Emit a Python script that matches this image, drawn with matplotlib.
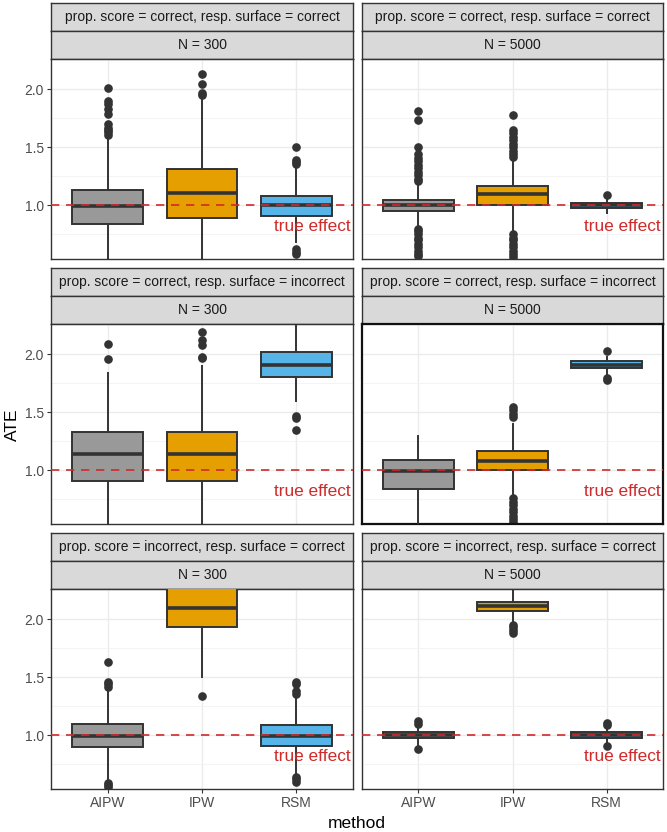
import matplotlib
matplotlib.use("Agg")
import matplotlib.pyplot as plt

plt.rcParams['font.family'] = ['Liberation Sans', 'DejaVu Sans']

# facet labels
row_labels = ["prop. score = correct, resp. surface = correct",
              "prop. score = correct, resp. surface = incorrect",
              "prop. score = incorrect, resp. surface = correct"]
col_labels = ["N = 300", "N = 5000"]
methods = ["AIPW", "IPW", "RSM"]
box_colors = ["#999999", "#E69F00", "#56B4E9"]

# box stats per panel (row-major: r0c0, r0c1, r1c0, r1c1, r2c0, r2c1), per method
q1 = [[0.84, 0.89, 0.905], [0.95, 1.00, 0.975],
      [0.91, 0.91, 1.805], [0.84, 1.00, 1.88],
      [0.90, 1.935, 0.905], [0.975, 2.075, 0.975]]
med = [[0.99, 1.11, 1.00], [1.00, 1.10, 1.00],
       [1.145, 1.145, 1.91], [0.995, 1.08, 1.91],
       [0.995, 2.10, 0.995], [1.00, 2.115, 1.00]]
q3 = [[1.135, 1.31, 1.08], [1.05, 1.17, 1.02],
      [1.33, 1.33, 2.02], [1.085, 1.165, 1.94],
      [1.10, 2.30, 1.09], [1.025, 2.15, 1.025]]
whislo = [[0.40, 0.40, 0.68], [0.83, 0.77, 0.93],
          [0.40, 0.40, 1.60], [0.40, 0.77, 1.83],
          [0.62, 1.505, 0.66], [0.92, 1.97, 0.92]]
whishi = [[1.59, 1.92, 1.33], [1.19, 1.39, 1.05],
          [1.84, 1.90, 2.40], [1.295, 1.40, 1.98],
          [1.39, 2.60, 1.34], [1.07, 2.30, 1.07]]
fliers = [
    [[2.01, 1.90, 1.87, 1.83, 1.79, 1.70, 1.67, 1.65, 1.63, 1.61],
     [1.95, 1.97, 2.05, 2.13],
     [1.50, 1.39, 1.37, 1.36, 0.62, 0.60, 0.58]],
    [[1.81, 1.74, 1.50, 1.44, 1.41, 1.38, 1.35, 1.32, 1.29, 1.26, 1.23, 1.21,
      0.80, 0.78, 0.75, 0.72, 0.70, 0.67, 0.64, 0.61, 0.58, 0.56],
     [1.78, 1.65, 1.62, 1.59, 1.56, 1.53, 1.50, 1.47, 1.44, 1.42,
      0.75, 0.72, 0.70, 0.67, 0.64, 0.61, 0.58, 0.55],
     [1.09]],
    [[2.09, 1.96],
     [2.19, 2.12, 2.08, 1.98, 1.97],
     [1.47, 1.45, 1.35]],
    [[],
     [1.55, 1.52, 1.49, 1.46, 0.76, 0.73, 0.70, 0.67, 0.64, 0.61, 0.58, 0.55],
     [2.03, 1.80, 1.78]],
    [[1.63, 1.46, 1.44, 1.42, 0.59, 0.57, 0.55],
     [1.34],
     [1.46, 1.44, 1.38, 1.36, 0.64, 0.62, 0.60]],
    [[1.12, 1.10, 0.885],
     [1.95, 1.93, 1.91, 1.88],
     [1.11, 1.09, 0.905]],
]
true_effect = 1.0
y_ticks = [1.0, 1.5, 2.0]
y_minor = [0.75, 1.25, 1.75, 2.25]

W, H = 667, 832
fig = plt.figure(figsize=(W / 100, H / 100), dpi=100)

col_x = [(51, 353), (362, 663)]
row_top = [3, 268, 533]
strip_h = 28
panel_h = 200

dark = "#333333"
red = "#D02A2A"


def px_rect(x0, x1, top, bottom):
    return [x0 / W, 1 - bottom / H, (x1 - x0) / W, (bottom - top) / H]


def strip(x0, x1, top, text):
    sax = fig.add_axes(px_rect(x0, x1, top, top + strip_h))
    sax.set_facecolor("#D9D9D9")
    sax.set_xticks([])
    sax.set_yticks([])
    for s in sax.spines.values():
        s.set_color(dark)
        s.set_linewidth(1.0)
    sax.text(0.5, 0.5, text, ha="center", va="center", fontsize=10,
             color="#1A1A1A", transform=sax.transAxes)


for r in range(3):
    for c in range(2):
        i = r * 2 + c
        x0, x1 = col_x[c]
        top = row_top[r]
        strip(x0, x1, top, row_labels[r])
        strip(x0, x1, top + strip_h, col_labels[c])
        ptop = top + 2 * strip_h
        ax = fig.add_axes(px_rect(x0, x1, ptop, ptop + panel_h))

        stats = []
        for m in range(3):
            stats.append(dict(med=med[i][m], q1=q1[i][m], q3=q3[i][m],
                              whislo=whislo[i][m], whishi=whishi[i][m],
                              fliers=fliers[i][m]))
        bp = ax.bxp(stats, positions=[1, 2, 3], widths=0.75, patch_artist=True,
                    showcaps=False,
                    boxprops=dict(edgecolor=dark, linewidth=1.4),
                    medianprops=dict(color=dark, linewidth=2.6),
                    whiskerprops=dict(color=dark, linewidth=1.4),
                    flierprops=dict(marker="o", markerfacecolor=dark,
                                    markeredgecolor=dark, markersize=5.2))
        for patch, col in zip(bp["boxes"], box_colors):
            patch.set_facecolor(col)
        for art in bp["boxes"] + bp["medians"] + bp["whiskers"]:
            art.set_zorder(3)

        ax.axhline(true_effect, color=red, linestyle=(0, (5, 4)),
                   linewidth=1.2, zorder=5)
        ax.text(3.58, 0.82, "true effect", color=red, fontsize=12.4,
                ha="right", va="center", zorder=6)

        ax.set_xlim(0.4, 3.6)
        ax.set_ylim(0.537, 2.262)
        ax.set_yticks(y_ticks)
        ax.set_yticks(y_minor, minor=True)
        ax.set_xticks([1, 2, 3])
        ax.grid(True, which="major", color="#EBEBEB", linewidth=1.0, zorder=0)
        ax.grid(True, which="minor", axis="y", color="#F3F3F3", linewidth=0.6, zorder=0)
        ax.set_axisbelow(True)
        ax.tick_params(which="minor", length=0)
        ax.tick_params(which="major", length=3, width=0.8, color=dark,
                       labelsize=10, labelcolor="#4D4D4D", pad=2)
        if c == 0:
            ax.set_yticklabels(["1.0", "1.5", "2.0"])
        else:
            ax.tick_params(axis="y", labelleft=False, length=0)
        if r == 2:
            ax.set_xticklabels(methods)
        else:
            ax.tick_params(axis="x", labelbottom=False, length=0)
        border = dark
        bw = 1.0
        if r == 1 and c == 1:
            border = "#111111"
            bw = 1.6
        for s in ax.spines.values():
            s.set_color(border)
            s.set_linewidth(bw)

fig.text(357 / W, 1 - 823 / H, "method", ha="center", va="center", fontsize=12.5)
fig.text(12 / W, 1 - 425 / H, "ATE", ha="center", va="center", fontsize=12.5,
         rotation=90)

fig.savefig("out.png", dpi=100)
